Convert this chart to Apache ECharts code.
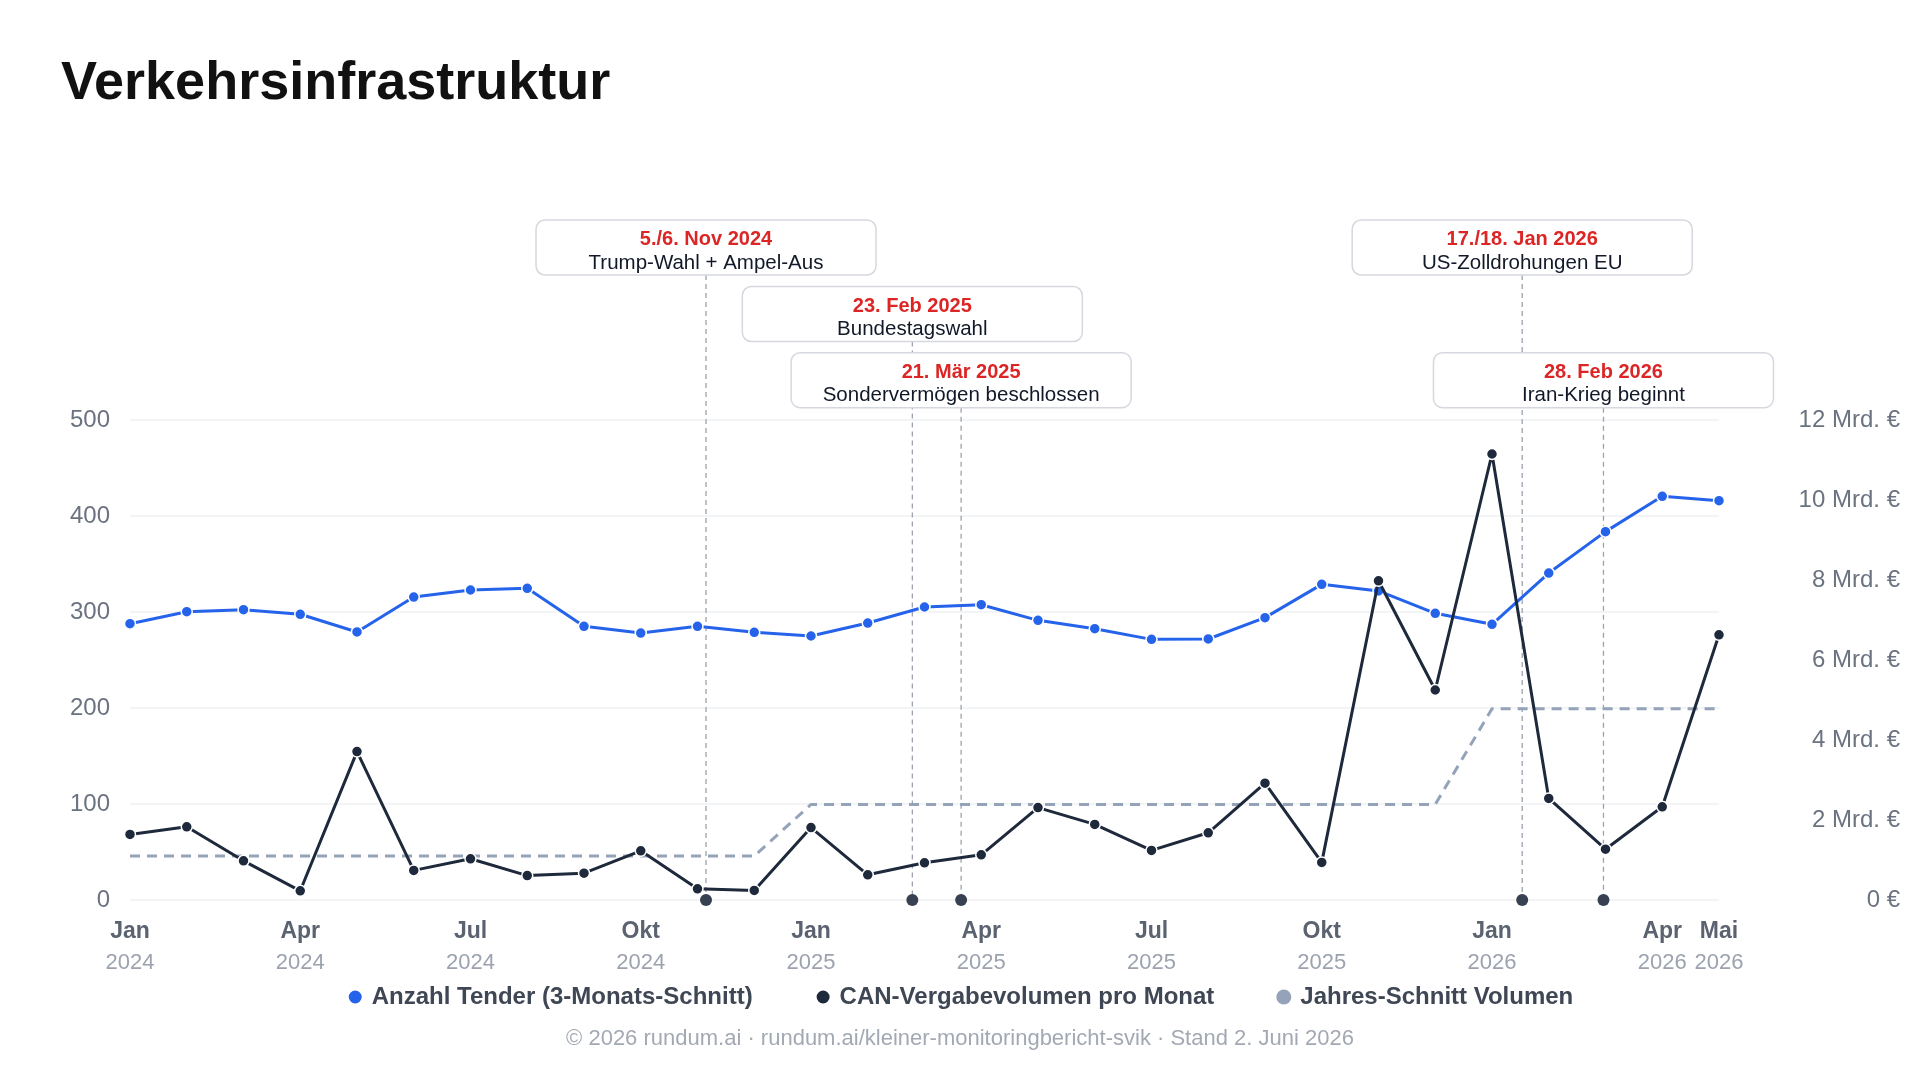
<!DOCTYPE html>
<html><head><meta charset="utf-8">
<script src="https://cdn.jsdelivr.net/npm/echarts@6/dist/echarts.min.js"></script>
<style>html,body{margin:0;padding:0;background:#fff}#c{width:1920px;height:1080px}</style>
</head><body><div id="c"></div>
<script>
// ---- Data ----
const monthLabels = ['Jan','Feb','Mär','Apr','Mai','Jun','Jul','Aug','Sep','Okt','Nov','Dez',
                     'Jan','Feb','Mär','Apr','Mai','Jun','Jul','Aug','Sep','Okt','Nov','Dez',
                     'Jan','Feb','Mär','Apr','Mai'];
const yearLabels = ['2024','2024','2024','2024','2024','2024','2024','2024','2024','2024','2024','2024',
                    '2025','2025','2025','2025','2025','2025','2025','2025','2025','2025','2025','2025',
                    '2026','2026','2026','2026','2026'];
const shownLabelIdx = [0,3,6,9,12,15,18,21,24,27,28];

const tenderCount = [287.8,300.3,302.4,297.6,279.2,315.6,322.9,324.7,285.1,278.1,285.1,278.8,
                     275.0,288.5,305.2,307.6,291.3,282.6,271.5,271.9,294.1,328.8,321.9,298.6,
                     287.2,340.6,383.7,420.5,416.0];
const canVolume = [1.64,1.83,0.98,0.23,3.71,0.74,1.03,0.61,0.67,1.23,0.28,0.24,
                   1.81,0.63,0.93,1.13,2.31,1.89,1.24,1.68,2.92,0.94,7.98,5.25,
                   11.15,2.54,1.27,2.33,6.63];
const yearAvgVolume = [1.10,1.10,1.10,1.10,1.10,1.10,1.10,1.10,1.10,1.10,1.10,1.10,
                       2.39,2.39,2.39,2.39,2.39,2.39,2.39,2.39,2.39,2.39,2.39,2.39,
                       4.78,4.78,4.78,4.78,4.78];

const leftTicks = [0,100,200,300,400,500];
const rightTicks = [0,2,4,6,8,10,12];

const eventDates = ['5./6. Nov 2024','23. Feb 2025','21. Mär 2025','17./18. Jan 2026','28. Feb 2026'];
const eventTitles = ['Trump-Wahl + Ampel-Aus','Bundestagswahl','Sondervermögen beschlossen','US-Zolldrohungen EU','Iran-Krieg beginnt'];
const eventMonthIdx = [10,13,14,24,25];
const eventDay = [5.5,23,21,17.5,28];
const eventMonthDays = [30,28,31,31,28];

// ---- Layout ----
const FONT = "'Liberation Sans', Arial, Helvetica, sans-serif";
const eventRow = [0,1,2,0,2];
const rowTop = [220,286.5,352.7];
const boxW = 340, boxH = 55;

const categories = monthLabels.map((m,i)=>m+' '+yearLabels[i]);
const eventData = eventMonthIdx.map((m,i)=>[m + (eventDay[i]-1)/eventMonthDays[i], 0]);

function renderEventLines(params, api){
  const i = params.dataIndex;
  const p = api.coord([api.value(0), 0]);
  const top = rowTop[eventRow[i]];
  return {type:'group', children:[
    {type:'line', shape:{x1:p[0], y1:top+boxH, x2:p[0], y2:p[1]},
     style:{stroke:'#9ca3af', lineWidth:1.3, lineDash:[5,4]}},
    {type:'circle', shape:{cx:p[0], cy:p[1], r:6}, style:{fill:'#374151'}}
  ]};
}
function renderEventBoxes(params, api){
  const i = params.dataIndex;
  const p = api.coord([api.value(0), 0]);
  const top = rowTop[eventRow[i]];
  return {type:'group', children:[
    {type:'rect', shape:{x:p[0]-boxW/2, y:top, width:boxW, height:boxH, r:9},
     style:{fill:'#ffffff', stroke:'#d5d8de', lineWidth:1.5}},
    {type:'text', style:{text:eventDates[i], x:p[0], y:top+19.5, align:'center', verticalAlign:'middle',
      fill:'#dc2626', fontSize:20, fontWeight:'bold', fontFamily:FONT}},
    {type:'text', style:{text:eventTitles[i], x:p[0], y:top+43, align:'center', verticalAlign:'middle',
      fill:'#111827', fontSize:20.5, fontFamily:FONT}}
  ]};
}

const chart = echarts.init(document.getElementById('c'), null, {renderer:'canvas'});
chart.setOption({
  animation:false,
  backgroundColor:'#ffffff',
  textStyle:{fontFamily:FONT},
  title:[
    {text:'Verkehrsinfrastruktur', left:56, top:52,
     textStyle:{fontSize:54, fontWeight:'bold', color:'#111111', fontFamily:FONT}},
    {text:'© 2026 rundum.ai · rundum.ai/kleiner-monitoringbericht-svik · Stand 2. Juni 2026',
     left:'center', top:1023, textStyle:{fontSize:22, fontWeight:'normal', color:'#a3a9b3', fontFamily:FONT}}
  ],
  legend:{
    data:['Anzahl Tender (3-Monats-Schnitt)','CAN-Vergabevolumen pro Monat','Jahres-Schnitt Volumen'],
    left:'center', top:980, icon:'circle', itemWidth:15, itemHeight:15, itemGap:62,
    textStyle:{fontSize:24, fontWeight:'bold', color:'#3f4654', fontFamily:FONT, padding:[0,0,0,4]}
  },
  grid:{left:130, right:201, top:420, bottom:180, containLabel:false},
  xAxis:[
    {type:'category', data:categories, boundaryGap:false,
     axisLine:{show:false}, axisTick:{show:false}, splitLine:{show:false},
     axisLabel:{interval:0, margin:16,
       formatter:(v,idx)=> shownLabelIdx.includes(idx) ? '{m|'+monthLabels[idx]+'}\n{y|'+yearLabels[idx]+'}' : '',
       rich:{m:{fontSize:23, fontWeight:'bold', color:'#5b6270', fontFamily:FONT, lineHeight:31},
             y:{fontSize:22, color:'#9ca3af', fontFamily:FONT, lineHeight:31}}}},
    {type:'value', min:0, max:28, show:false}
  ],
  yAxis:[
    {type:'value', min:leftTicks[0], max:leftTicks[leftTicks.length-1], interval:100,
     axisLine:{show:false}, axisTick:{show:false},
     splitLine:{show:true, lineStyle:{color:'#eef0f3', width:1.5}},
     axisLabel:{fontSize:24, color:'#6b7280', margin:20, fontFamily:FONT}},
    {type:'value', min:rightTicks[0], max:rightTicks[rightTicks.length-1], interval:2, position:'right',
     axisLine:{show:false}, axisTick:{show:false}, splitLine:{show:false},
     axisLabel:{fontSize:24, color:'#6b7280', margin:181, align:'right', fontFamily:FONT,
       formatter:v=> v===0 ? '0 €' : v+' Mrd. €'}}
  ],
  series:[
    {type:'custom', name:'evLines', coordinateSystem:'cartesian2d', xAxisIndex:1, yAxisIndex:0,
     data:eventData, renderItem:renderEventLines, clip:false, silent:true, z:1},
    {name:'Jahres-Schnitt Volumen', type:'line', xAxisIndex:0, yAxisIndex:1, data:yearAvgVolume,
     showSymbol:false, symbol:'circle', z:2,
     lineStyle:{color:'#94a3b8', width:3, type:[10,7]}, itemStyle:{color:'#94a3b8'}},
    {name:'Anzahl Tender (3-Monats-Schnitt)', type:'line', xAxisIndex:0, yAxisIndex:0, data:tenderCount,
     symbol:'circle', symbolSize:11, z:3,
     lineStyle:{color:'#2563eb', width:3}, itemStyle:{color:'#2563eb', borderColor:'#ffffff', borderWidth:1.5}},
    {name:'CAN-Vergabevolumen pro Monat', type:'line', xAxisIndex:0, yAxisIndex:1, data:canVolume,
     symbol:'circle', symbolSize:11, z:4,
     lineStyle:{color:'#1e293b', width:3}, itemStyle:{color:'#1e293b', borderColor:'#ffffff', borderWidth:1.5}},
    {type:'custom', name:'evBoxes', coordinateSystem:'cartesian2d', xAxisIndex:1, yAxisIndex:0,
     data:eventData, renderItem:renderEventBoxes, clip:false, silent:true, z:10}
  ]
});
</script></body></html>
